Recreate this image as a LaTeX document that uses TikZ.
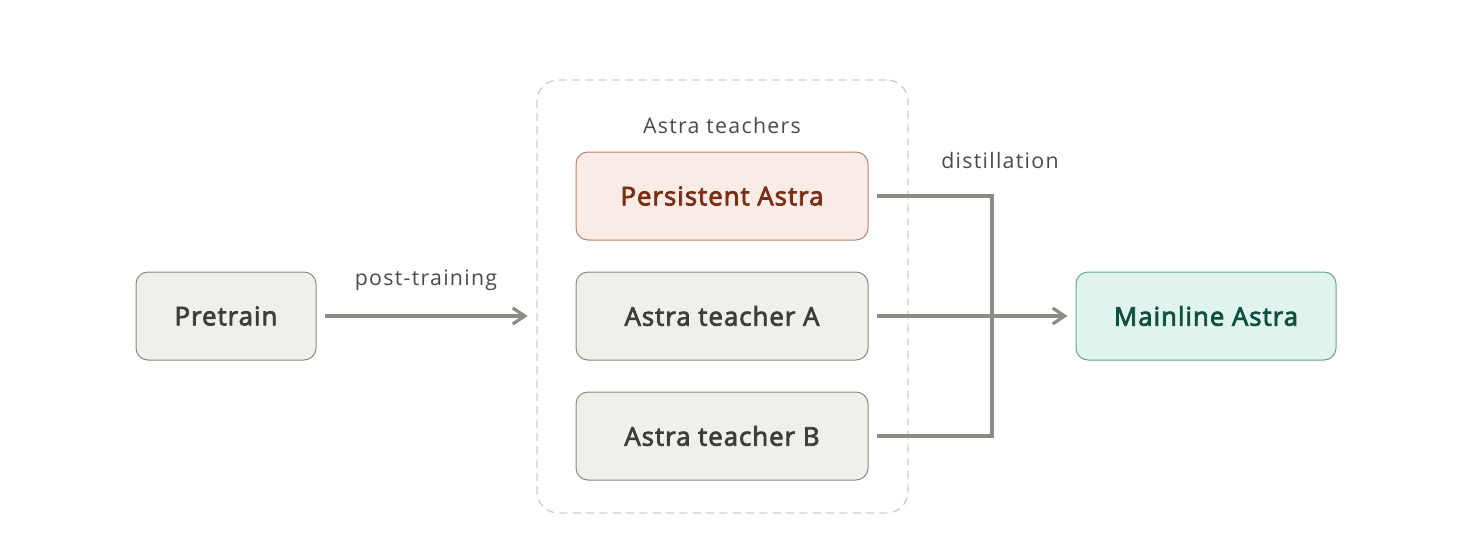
\documentclass[tikz,border=0pt]{standalone}
\usepackage{fontspec}
\setmainfont{Open Sans}
\newfontfamily\boxfont[FakeBold=3,LetterSpace=4]{Open Sans}
\newfontfamily\lblfont[LetterSpace=6]{Open Sans}
\usetikzlibrary{arrows.meta}
\definecolor{graybox}{HTML}{F1EFE9}
\definecolor{grayline}{HTML}{8A8A85}
\definecolor{graytext}{HTML}{3D3D3A}
\definecolor{labeltext}{HTML}{4A4A48}
\definecolor{redfill}{HTML}{F9ECE6}
\definecolor{redline}{HTML}{C0806A}
\definecolor{redtext}{HTML}{7A2E14}
\definecolor{greenfill}{HTML}{E0F3EC}
\definecolor{greenline}{HTML}{5FA88E}
\definecolor{greentext}{HTML}{0E5040}
\definecolor{conn}{HTML}{8C8C87}
\definecolor{dash}{HTML}{CCCCCC}
\tikzset{
  box/.style={draw=grayline, fill=graybox, rounded corners=9pt, line width=0.75pt,
    minimum height=66pt, text=graytext, font=\boxfont\fontsize{19.3}{22}\selectfont, inner sep=0pt},
  redbox/.style={box, draw=redline, fill=redfill, text=redtext},
  greenbox/.style={box, draw=greenline, fill=greenfill, text=greentext},
  lbl/.style={text=labeltext, font=\lblfont\fontsize{16}{18}\selectfont, inner sep=0pt},
  conline/.style={draw=conn, line width=2.4pt},
  arr/.style={conline, -{Straight Barb[length=9pt,width=12pt,line width=2.4pt]}},
  group/.style={draw=dash, dashed, dash pattern=on 6pt off 4pt, rounded corners=16pt, line width=1pt, minimum width=278.25pt, minimum height=324.75pt}
}
\begin{document}
\begin{tikzpicture}[x=0.75pt,y=-0.75pt]
\useasboundingbox (0,0) rectangle (1474,560);
\node[group] (grp) at (722.5,296.5) {};
\node[lbl] (gl) at (722,125) {Astra teachers};
\node[box, minimum width=135pt] (pre) at (226,316) {Pretrain};
\node[redbox, minimum width=219pt] (pa) at (722,196) {Persistent Astra};
\node[box, minimum width=219pt] (ta) at (722,316) {Astra teacher A};
\node[box, minimum width=219pt] (tb) at (722,436) {Astra teacher B};
\node[greenbox, minimum width=195pt] (ma) at (1206,316) {Mainline Astra};
\node[lbl] (ptl) at (426,280) {post-training};
\node[lbl] (dl) at (1000,160) {distillation};
\coordinate (j1) at (992,196);
\coordinate (j2) at (992,436);
\draw[arr] ([xshift=6pt]pre.east) -- ([xshift=-6.5pt]grp.west |- pre.east);
\draw[conline] ([xshift=6pt]pa.east) -- (j1) -- (j2) -- ([xshift=6pt]tb.east);
\draw[arr] ([xshift=6pt]ta.east) -- ([xshift=-6pt]ma.west);
\end{tikzpicture}
\end{document}
